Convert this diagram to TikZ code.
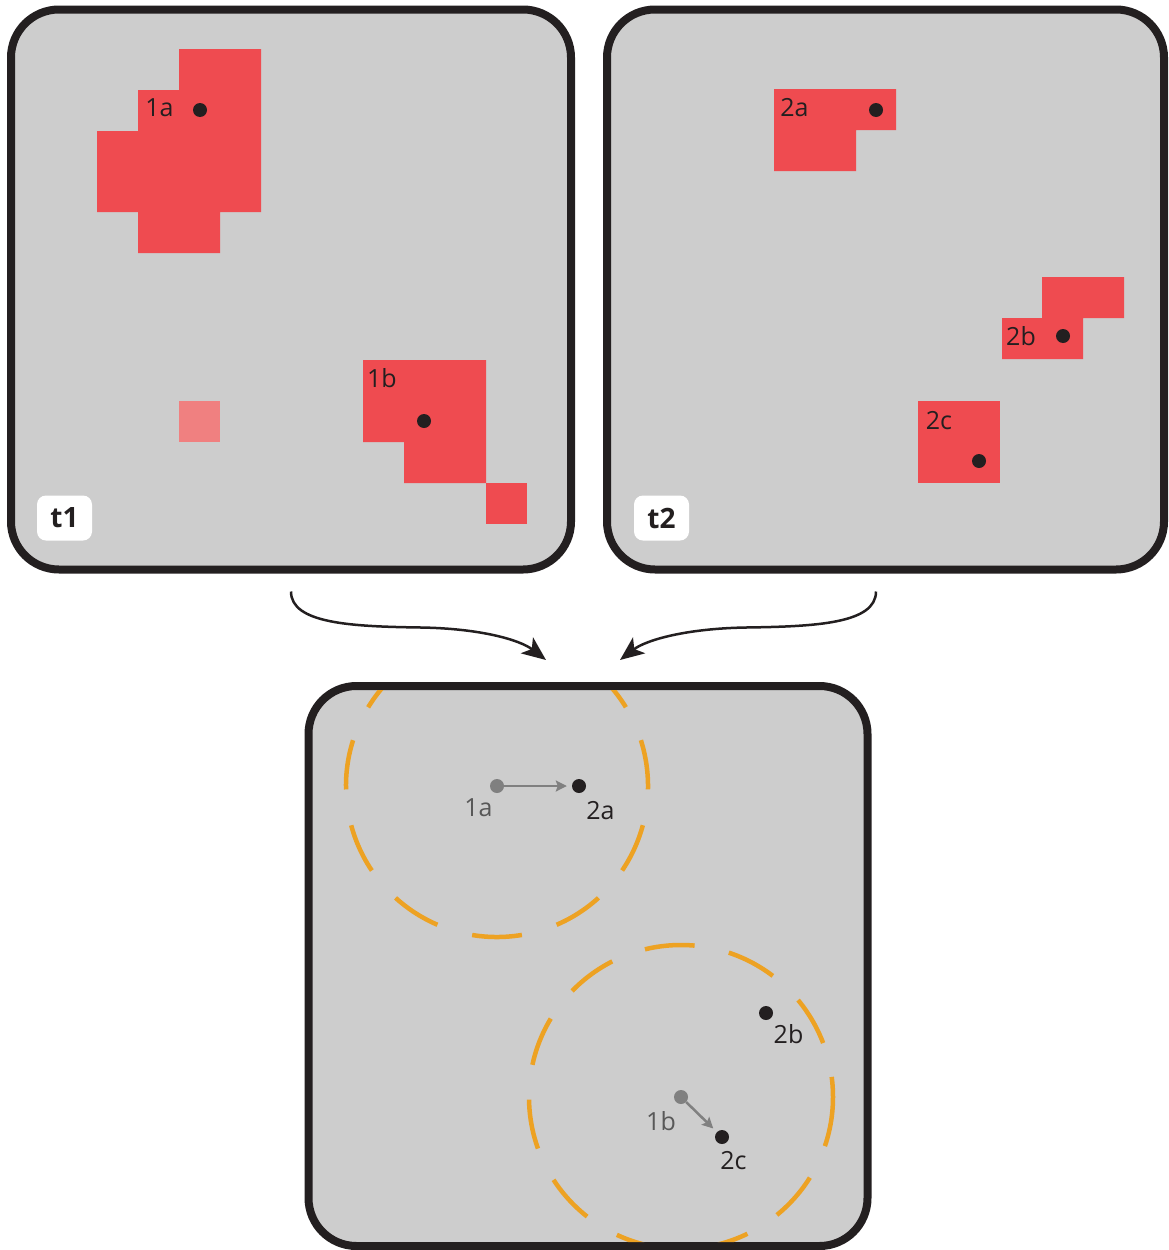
\documentclass[tikz,border=0pt]{standalone}
\usepackage{fontspec}
\setmainfont{Open Sans}
\usepackage{xcolor}
\usepackage{tikz}
\usetikzlibrary{arrows.meta, positioning, calc}
\definecolor{panelgray}{RGB}{205, 205, 205}
\definecolor{borderdark}{RGB}{35, 31, 32}
\definecolor{cellred}{RGB}{239, 75, 80}
\definecolor{palered}{RGB}{240, 128, 128}
\definecolor{ringorange}{RGB}{237, 162, 35}
\definecolor{oldgray}{RGB}{128, 128, 128}
\definecolor{oldtext}{RGB}{88, 88, 88}
\tikzset{
  panel/.style={rectangle, rounded corners=48pt, draw=borderdark, line width=8pt,
              fill=panelgray, minimum width=#1, minimum height=560pt,
              inner sep=0pt, outer sep=0pt},
  panel/.default=560pt,
  badge/.style={rectangle, rounded corners=9pt, fill=white, minimum width=55pt,
              minimum height=45pt, inner sep=0pt, text=borderdark,
              font=\fontsize{28}{32}\selectfont\bfseries},
  blackdot/.style={circle, fill=borderdark, minimum size=14pt, inner sep=0pt},
  graydot/.style={circle, fill=oldgray, minimum size=14pt, inner sep=0pt},
  celllabel/.style={inner sep=0pt, text=borderdark, font=\fontsize{25}{30}\selectfont},
  oldlabel/.style={inner sep=0pt, text=oldtext, font=\fontsize{25}{30}\selectfont},
  mergearrow/.style={-{Stealth[length=24pt, width=20pt, inset=6pt]}, line width=2.5pt,
              draw=borderdark},
  movearrow/.style={-{Stealth[length=11pt, width=11pt, inset=2pt]}, line width=2.5pt,
              draw=oldgray, shorten >=5pt},
  searchring/.style={draw=ringorange, line width=4.5pt},
}

\begin{document}
\begin{tikzpicture}[x=1pt, y=-1pt]
  \useasboundingbox (0,0) rectangle (1168,1250);

  % frame t1
  \node[panel] (p1) at (291,289.5) {};
  \fill[cellred] (179,49) -- (261,49) -- (261,212) -- (220,212) -- (220,253) -- (138,253)
        -- (138,212) -- (97,212) -- (97,131) -- (138,131) -- (138,90) -- (179,90) -- cycle;
  \fill[cellred] (363,360) -- (486,360) -- (486,483) -- (404,483) -- (404,442) -- (363,442) -- cycle;
  \fill[cellred] (486,483) rectangle (527,524);
  \fill[palered] (179,401) rectangle (220,442);
  \node[blackdot] (c1a) at (200,110) {};
  \node[celllabel] (l1a) at (159.5,108) {1a};
  \node[blackdot] (c1b) at (424,421) {};
  \node[celllabel] (l1b) at (382,378) {1b};
  \node[badge] (b1) at (64.5,518) {t1};

  % frame t2
  \node[panel=557pt] (p2) at (885.5,289.5) {};
  \fill[cellred] (774,89) -- (896,89) -- (896,130) -- (856,130) -- (856,171) -- (774,171) -- cycle;
  \fill[cellred] (1042,277) -- (1124,277) -- (1124,318) -- (1083,318) -- (1083,359)
        -- (1002,359) -- (1002,318) -- (1042,318) -- cycle;
  \fill[cellred] (918,401) rectangle (1000,483);
  \node[blackdot] (c2a) at (876,110) {};
  \node[celllabel] (l2a) at (794.5,108) {2a};
  \node[blackdot] (c2b) at (1063,336) {};
  \node[celllabel] (l2b) at (1021,336) {2b};
  \node[blackdot] (c2c) at (979,461) {};
  \node[celllabel] (l2c) at (939,421) {2c};
  \node[badge] (b2) at (661.5,518) {t2};

  % matching frame
  \node[panel=559pt] (p3) at (588,966) {};
  \node[graydot] (m1a) at (497,786) {};
  \node[blackdot] (m2a) at (579,786) {};
  \node[graydot] (m1b) at (681,1097) {};
  \node[blackdot] (m2b) at (766,1013) {};
  \node[blackdot] (m2c) at (722,1137) {};
  \begin{scope}
    \clip[rounded corners=44pt] ($(p3.north west)+(4,4)$) rectangle ($(p3.south east)+(-4,-4)$);
    \draw[searchring, dash pattern=on 50pt off 36.26pt] (m1a.center) ++(80.5:151)
          arc[start angle=80.5, end angle=440.5, radius=151];
    \draw[searchring, dash pattern=on 50pt off 35pt] (m1b.center) ++(0:152)
          arc[start angle=0, end angle=360, radius=152];
  \end{scope}
  \node[oldlabel] (n1a) at (478.5,808) {1a};
  \node[celllabel] (n2a) at (600.5,811) {2a};
  \node[celllabel] (n2b) at (788.5,1034) {2b};
  \node[oldlabel] (n1b) at (661,1121) {1b};
  \node[celllabel] (n2c) at (733.5,1161) {2c};
  \draw[movearrow] (m1a) -- (m2a);
  \draw[movearrow] (m1b) -- (m2c);

  % arrows into the matching frame
  \coordinate (a1s) at ($(p1.south)+(0,22)$);
  \coordinate (a1e) at ($(p3.north)+(-42,-26)$);
  \coordinate (a2s) at ($(p2.south)+(-9.5,22)$);
  \coordinate (a2e) at ($(p3.north)+(32,-26)$);
  \draw[mergearrow] (a1s) .. controls +(0,32) and +(-70,-1) .. ++(130,36)
        .. controls +(60,1) and +(-26,-20) .. (a1e);
  \draw[mergearrow] (a2s) .. controls +(0,32) and +(70,-1) .. ++(-130,36)
        .. controls +(-60,1) and +(26,-20) .. (a2e);
\end{tikzpicture}
\end{document}
